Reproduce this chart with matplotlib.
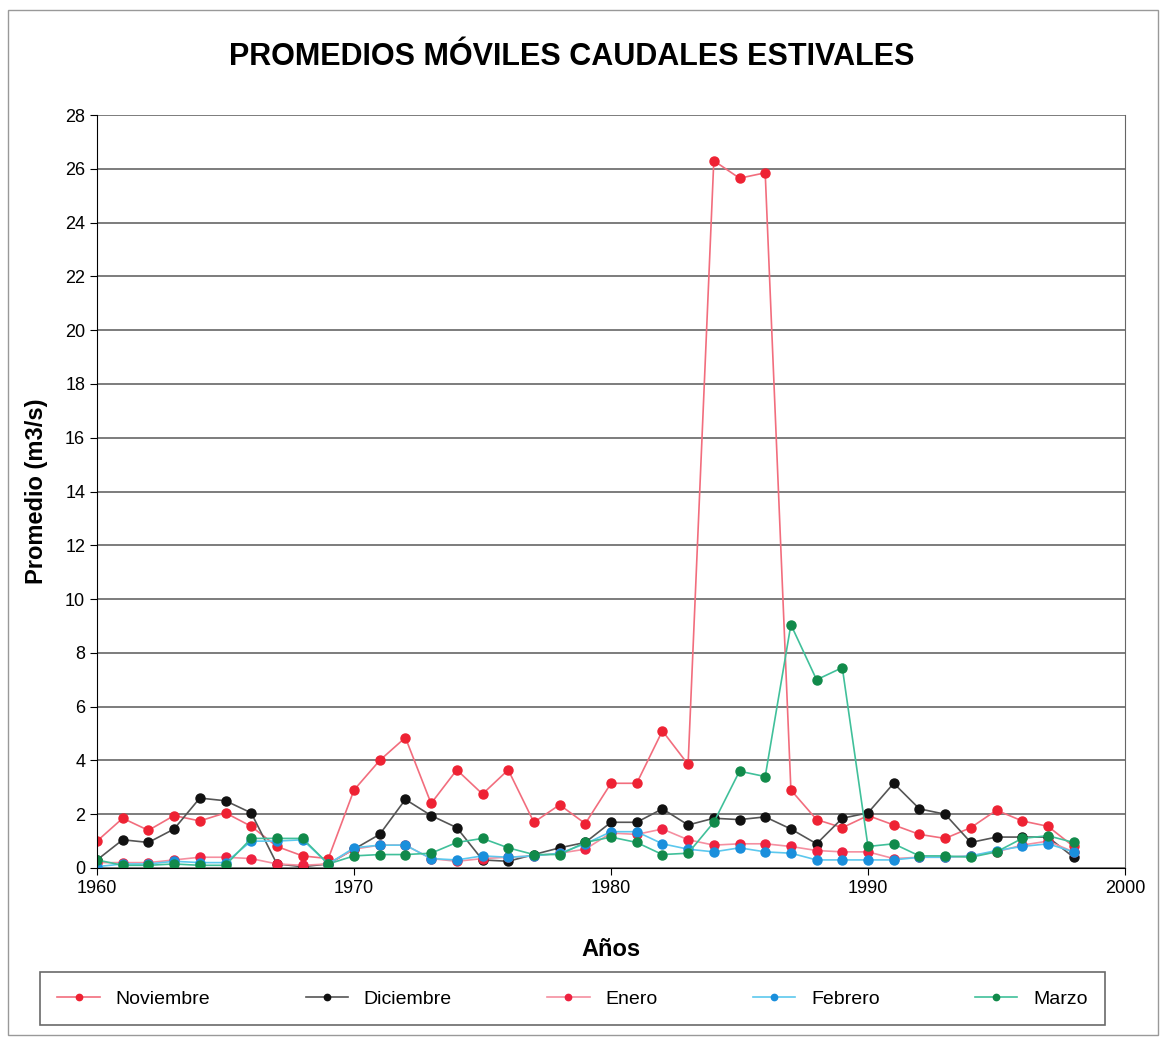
import numpy as np
import matplotlib.pyplot as plt

plt.rcParams['font.family'] = ['Liberation Sans', 'DejaVu Sans']

# Datos
anios = np.arange(1960, 1999)

noviembre = [1.0, 1.85, 1.4, 1.95, 1.75, 2.05, 1.55, 0.8, 0.45, 0.35,
             2.9, 4.0, 4.85, 2.4, 3.65, 2.75, 3.65, 1.7, 2.35, 1.65,
             3.15, 3.15, 5.1, 3.85, 26.3, 25.65, 25.85, 2.9, 1.8, 1.5,
             1.95, 1.6, 1.25, 1.1, 1.5, 2.15, 1.75, 1.55, 0.8]
diciembre = [0.3, 1.05, 0.95, 1.45, 2.6, 2.5, 2.05, 0.15, 0.05, 0.15,
             0.7, 1.25, 2.55, 1.95, 1.5, 0.3, 0.25, 0.5, 0.75, 0.95,
             1.7, 1.7, 2.2, 1.6, 1.85, 1.8, 1.9, 1.45, 0.9, 1.85,
             2.05, 3.15, 2.2, 2.0, 0.95, 1.15, 1.15, 1.15, 0.4]
enero = [0.2, 0.2, 0.2, 0.3, 0.4, 0.4, 0.35, 0.15, 0.1, 0.15,
         0.7, 0.85, 0.85, 0.35, 0.25, 0.35, 0.4, 0.45, 0.55, 0.7,
         1.3, 1.25, 1.45, 1.05, 0.85, 0.9, 0.9, 0.8, 0.65, 0.6,
         0.6, 0.35, 0.4, 0.4, 0.45, 0.6, 0.85, 1.0, 0.6]
febrero = [0.05, 0.15, 0.15, 0.25, 0.2, 0.2, 1.0, 1.0, 1.05, 0.15,
           0.75, 0.85, 0.85, 0.35, 0.3, 0.45, 0.4, 0.45, 0.55, 0.9,
           1.35, 1.35, 0.9, 0.7, 0.6, 0.75, 0.6, 0.55, 0.3, 0.3,
           0.3, 0.3, 0.4, 0.4, 0.45, 0.65, 0.8, 0.9, 0.6]
marzo = [0.3, 0.1, 0.1, 0.15, 0.1, 0.1, 1.1, 1.1, 1.1, 0.15,
         0.45, 0.5, 0.5, 0.55, 0.95, 1.1, 0.75, 0.5, 0.5, 0.95,
         1.15, 0.95, 0.5, 0.55, 1.7, 3.6, 3.4, 9.05, 7.0, 7.45,
         0.8, 0.9, 0.45, 0.45, 0.4, 0.6, 1.1, 1.2, 0.95]

series = [
    ("Noviembre", noviembre, '#f26d7d', '#ee2233'),
    ("Diciembre", diciembre, '#555555', '#111111'),
    ("Enero", enero, '#f58fa0', '#ee2240'),
    ("Febrero", febrero, '#5cc8ee', '#1a8fdc'),
    ("Marzo", marzo, '#40c09a', '#118a4a'),
]

fig = plt.figure(figsize=(11.62, 10.40), dpi=100)
ax = fig.add_axes([97/1162, 1 - 868/1040, (1125-97)/1162, (868-115)/1040])

for nombre, datos, c_linea, c_marca in series:
    ax.plot(anios, datos, color=c_linea, linewidth=1.2, marker='o', markersize=6.5,
            markerfacecolor=c_marca, markeredgecolor=c_marca, label=nombre)

ax.set_xlim(1960, 2000)
ax.set_ylim(0, 28)
ax.set_xticks(np.arange(1960, 2001, 10))
ax.set_yticks(np.arange(0, 29, 2))
ax.yaxis.grid(True, color='#666666', linewidth=1.2)
ax.set_axisbelow(True)
ax.spines['top'].set_visible(False)
ax.spines['right'].set_color('#666666')
ax.tick_params(labelsize=13, direction='out', length=5)

ax.set_xlabel("Años", fontsize=17, fontweight='bold', labelpad=30)
ax.set_ylabel("Promedio (m3/s)", fontsize=17, fontweight='bold', labelpad=12)
fig.text(0.492, 1 - 57/1040, "PROMEDIOS MÓVILES CAUDALES ESTIVALES",
         ha='center', va='center', fontsize=22, fontweight='bold')

leg = fig.legend(loc='lower left', ncol=5, mode='expand',
                 bbox_to_anchor=(40/1162, 1 - 1025/1040, 1065/1162, 55/1040),
                 fontsize=14, frameon=True, fancybox=False, edgecolor='#444444',
                 handlelength=2.2, markerscale=0.7, borderpad=0.9,
                 borderaxespad=0)
leg.get_frame().set_linewidth(1.2)

# borde exterior del gráfico
fig.patches.append(plt.Rectangle((8/1162, 5/1040), 1150/1162, 1025/1040,
                                 transform=fig.transFigure, fill=False,
                                 edgecolor='#999999', linewidth=1))

plt.savefig("out.png")
